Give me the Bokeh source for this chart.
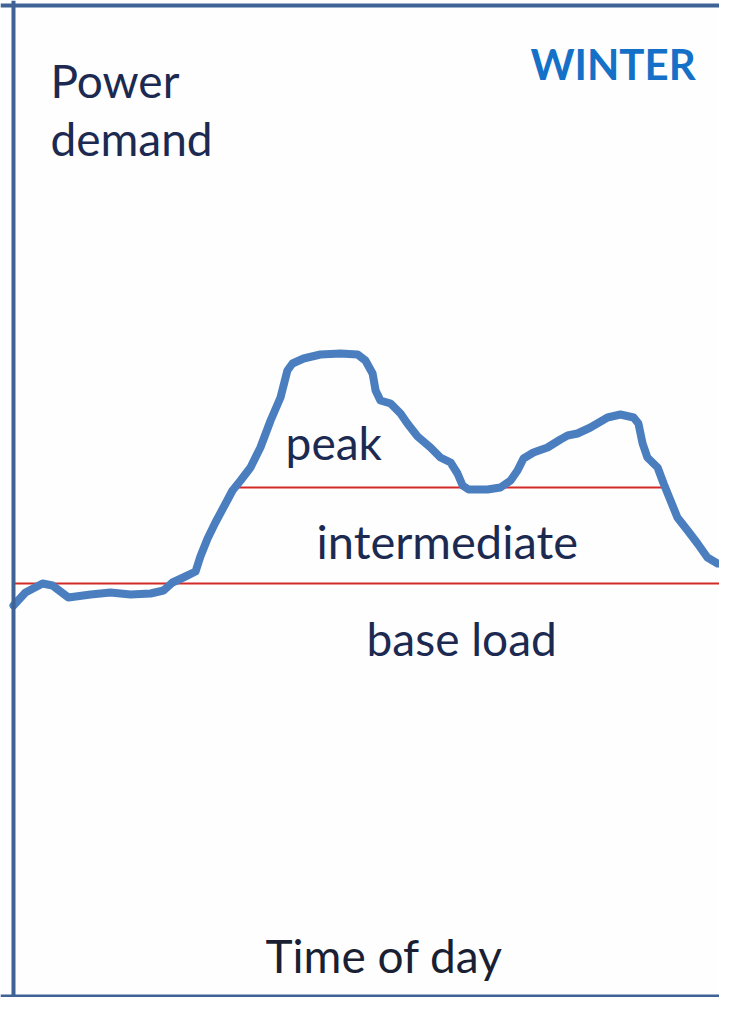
from bokeh.plotting import figure
from bokeh.models import Range1d, Span, Label
from bokeh.embed import file_html
from bokeh.resources import INLINE

# Time of day (hours) and power demand (arbitrary units)
hours = [0.0, 0.40, 0.97, 1.30, 1.83, 2.57, 3.23, 3.90, 4.57, 5.00, 5.30, 5.73, 6.07,
         6.23, 6.47, 6.73, 7.07, 7.30, 7.57, 7.90, 8.23, 8.57, 8.90, 9.13, 9.30, 9.67,
         10.23, 10.90, 11.47, 11.73, 11.97, 12.07, 12.23, 12.57, 12.90, 13.13, 13.47,
         13.90, 14.23, 14.57, 14.80, 14.97, 15.17, 15.80, 16.23, 16.57, 16.80, 17.00,
         17.33, 17.80, 18.23, 18.47, 18.80, 19.23, 19.80, 20.23, 20.67, 20.83, 20.97,
         21.13, 21.47, 21.67, 21.90, 22.13, 22.47, 22.80, 23.13, 23.47, 24.07]
demand = [40.5, 41.8, 42.7, 42.5, 41.3, 41.6, 41.8, 41.6, 41.7, 42.0, 42.8, 43.4, 43.9,
          45.4, 47.2, 48.8, 50.7, 52.0, 53.0, 54.3, 56.3, 59.0, 61.3, 64.0, 64.7, 65.2,
          65.6, 65.7, 65.6, 65.0, 63.7, 62.0, 61.0, 60.7, 59.7, 58.7, 57.4,
          56.3, 55.3, 54.8, 53.7, 52.5, 52.1, 52.1, 52.3, 53.0, 54.0, 55.2,
          55.8, 56.3, 57.1, 57.5, 57.7, 58.3, 59.3, 59.6, 59.3, 58.7, 56.7,
          55.3, 54.3, 52.7, 51.0, 49.3, 48.0, 46.7, 45.3, 44.7, 44.6]

base_level = 42.7
base_span = [0.0, 24.5]
peak_level = 52.3
peak_span = [7.3, 21.65]

band_labels = ["peak", "intermediate", "base load"]
axis_labels = ["Power", "demand", "Time of day"]
season = "WINTER"

p = figure(width=719, height=997, output_backend="svg", toolbar_location=None,
           x_range=Range1d(-0.433, 23.533), y_range=Range1d(1.3, 101.0),
           min_border=0, background_fill_color="#fdfefd", border_fill_color="#fdfefd")
p.axis.visible = False
p.grid.visible = False
p.outline_line_color = None

frame_col = "#3f6396"
p.add_layout(Span(location=0.0, dimension="height", line_color=frame_col, line_width=4))
p.add_layout(Span(location=100.5, dimension="width", line_color=frame_col, line_width=4))
p.add_layout(Span(location=1.45, dimension="width", line_color=frame_col, line_width=3))

red = "#d42a2a"
p.line(base_span, [base_level, base_level], line_color=red, line_width=2)
p.line(peak_span, [peak_level, peak_level], line_color=red, line_width=2)

p.line(hours, demand, line_color="#4a7ebf", line_width=8, line_join="round", line_cap="round")

txt = "#1c2a52"
font = "Lato"
fs = "46px"
dy = 1.7
p.add_layout(Label(x=1.23, y=91.3 + dy, text=axis_labels[0], text_font=font, text_font_size=fs,
                   text_color=txt, text_baseline="alphabetic"))
p.add_layout(Label(x=1.23, y=85.5 + dy, text=axis_labels[1], text_font=font, text_font_size=fs,
                   text_color=txt, text_baseline="alphabetic"))
p.add_layout(Label(x=8.4, y=3.8 + dy, text=axis_labels[2], text_font=font, text_font_size=fs,
                   text_color="#1a1f33", text_baseline="alphabetic"))
p.add_layout(Label(x=17.23, y=93.0 + dy, text=season, text_font=font, text_font_size="42px",
                   text_font_style="bold", text_color="#1570c8", text_baseline="alphabetic"))
p.add_layout(Label(x=9.07, y=55.1 + dy, text=band_labels[0], text_font=font, text_font_size=fs,
                   text_color=txt, text_baseline="alphabetic"))
p.add_layout(Label(x=10.1, y=45.3 + dy, text=band_labels[1], text_font=font, text_font_size="47px",
                   text_color=txt, text_baseline="alphabetic"))
p.add_layout(Label(x=11.77, y=35.5 + dy, text=band_labels[2], text_font=font, text_font_size=fs,
                   text_color=txt, text_baseline="alphabetic"))

open("out.html", "w").write(file_html(p, INLINE))
